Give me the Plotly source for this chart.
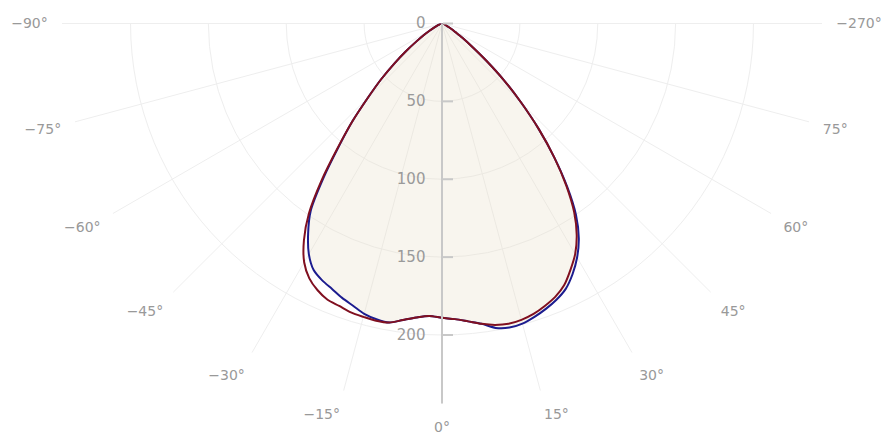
import plotly.graph_objects as go

angles = [-90, -87.5, -85, -82.5, -80, -77.5, -75, -72.5, -70, -67.5, -65, -62.5, -60, -57.5, -55, -52.5,
          -50, -47.5, -45, -42.5, -40, -37.5, -35, -32.5, -30, -27.5, -25, -22.5, -20, -17.5, -15, -12.5,
          -10, -7.5, -5, -2.5, 0, 2.5, 5, 7.5, 10, 12.5, 15, 17.5, 20, 22.5, 25, 27.5, 30, 32.5, 35, 37.5,
          40, 42.5, 45, 47.5, 50, 52.5, 55, 57.5, 60, 62.5, 65, 67.5, 70, 72.5, 75, 77.5, 80, 82.5, 85, 87.5, 90]

red_values = [0, 0.3, 0.5, 0.7, 1, 1.2, 1.5, 1.8, 2, 3, 4, 6, 9, 14, 20, 29,
              40, 53, 67, 85, 104, 127, 149, 165, 177, 184.5, 189, 192, 193, 194.5, 195, 195.5,
              195, 192, 189.5, 188, 189, 190, 192, 194.5, 196.5, 197.5, 197, 195.5, 193, 190, 185.5, 178.5, 171, 161, 148, 131,
              112, 92, 72, 54, 37, 24, 16, 10, 7, 4.5, 3, 2.5, 2, 1.5, 1.2, 1, 0.8, 0.6, 0.4, 0.2, 0]

blue_values = [0, 0.3, 0.5, 0.7, 1, 1.2, 1.5, 1.8, 2, 3, 4, 6, 9, 14, 20, 29,
               40, 53, 67, 85, 103, 125, 147, 160, 171, 178.5, 182, 184.5, 187.5, 190, 193, 194.5,
               195, 192, 189.5, 188, 189, 190, 192, 194.5, 198.5, 200, 199.5, 197.5, 195, 192, 188, 181.5, 173.5, 163.5, 150, 132,
               112, 92, 72, 54, 37, 24, 16, 10, 7, 4.5, 3, 2.5, 2, 1.5, 1.2, 1, 0.8, 0.6, 0.4, 0.2, 0]

# angular tick positions in the axis frame used by the half-circle sector (-90..90 maps to 270..450)
angle_tick_values = [270, 285, 300, 315, 330, 345, 360, 375, 390, 405, 420, 435, 450]
angle_labels = ["−90°", "−75°", "−60°", "−45°", "−30°", "−15°", "0°", "15°", "30°", "45°", "60°", "75°", "−270°"]
radial_ticks = [0, 50, 100, 150, 200]
radial_labels = ["0\u00a0\u00a0", "50\u00a0\u00a0", "100\u00a0\u00a0", "150\u00a0\u00a0", "200\u00a0\u00a0"]

fig = go.Figure()
fig.add_trace(go.Scatterpolar(
    r=blue_values, theta=angles, mode="lines",
    line=dict(color="#1c1c8f", width=2, shape="spline", smoothing=0.8),
    fill="toself", fillcolor="rgba(232,222,200,0.3)",
    hoverinfo="skip", showlegend=False,
))
fig.add_trace(go.Scatterpolar(
    r=red_values, theta=angles, mode="lines",
    line=dict(color="#801020", width=2, shape="spline", smoothing=0.8),
    hoverinfo="skip", showlegend=False,
))

fig.update_layout(
    width=889, height=435,
    margin=dict(l=0, r=0, t=0, b=0),
    paper_bgcolor="white",
    font=dict(family="DejaVu Sans, sans-serif", color="#999999", size=14),
    polar=dict(
        domain=dict(x=[54 / 889, 814 / 889], y=[1 - 395.5 / 435, 1 - 15.5 / 435]),
        sector=[180, 360],
        bgcolor="white",
        angularaxis=dict(
            rotation=270, direction="counterclockwise",
            tickmode="array", tickvals=angle_tick_values, ticktext=angle_labels,
            showline=False, gridcolor="#eeeeee", gridwidth=1,
            ticks="outside", ticklen=11, tickcolor="rgba(0,0,0,0)",
            tickfont=dict(size=14, color="#999999"),
        ),
        radialaxis=dict(
            range=[0, 244], angle=270, tickangle=-90,
            tickmode="array", tickvals=radial_ticks, ticktext=radial_labels,
            showline=True, linecolor="#c8c8c8", linewidth=2,
            gridcolor="#eeeeee", gridwidth=1,
            ticks="inside", ticklen=10, tickwidth=2, tickcolor="#c8c8c8",
            tickfont=dict(size=15, color="#9a9a9a"),
        ),
    ),
)

fig.write_html("out.html")
